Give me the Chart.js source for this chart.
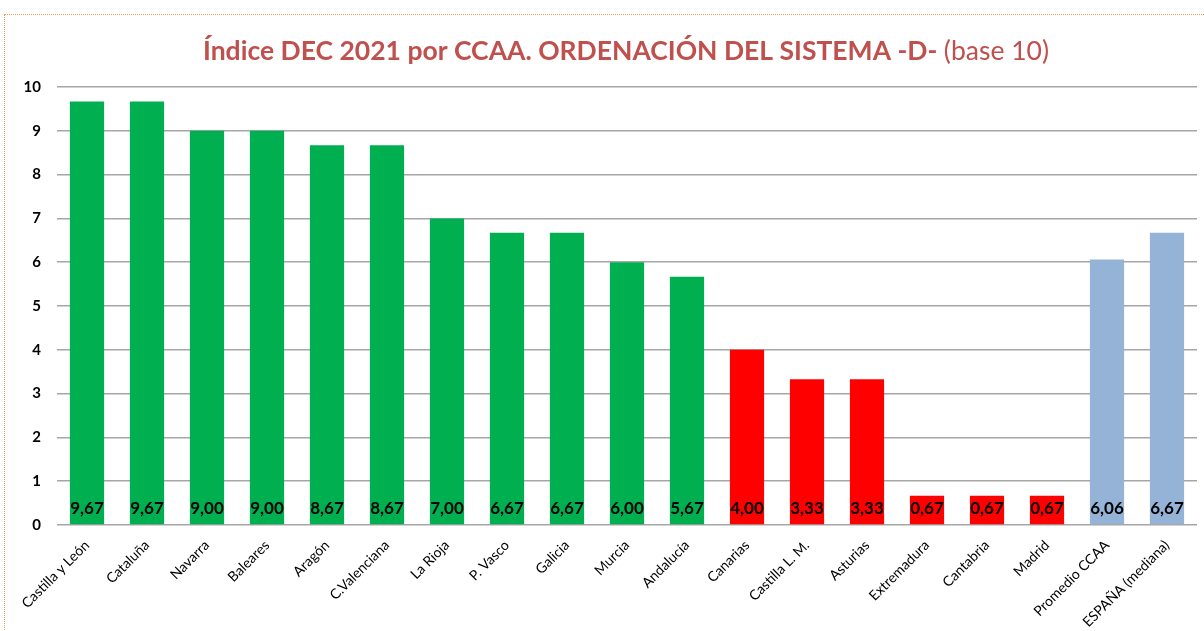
<!DOCTYPE html>
<html>
<head>
<meta charset="utf-8">
<script src="https://cdn.jsdelivr.net/npm/chart.js@4"></script>
<style>
  html, body { margin: 0; padding: 0; background: #fff; overflow: hidden; }
  #frame { position: absolute; left: 4px; top: 14px; width: 1400px; height: 800px; border: 1px dotted #F79646; }
  #wrap { position: absolute; left: 0; top: 0; width: 1204px; height: 631px; }
</style>
</head>
<body>
<div id="frame"></div>
<div id="wrap"><canvas id="c" width="1204" height="631"></canvas></div>
<script>
const categories = ["Castilla y León","Cataluña","Navarra","Baleares","Aragón","C.Valenciana","La Rioja","P. Vasco","Galicia","Murcia","Andalucía","Canarias","Castilla L. M.","Asturias","Extremadura","Cantabria","Madrid","Promedio CCAA","ESPAÑA (mediana)"];
const values = [9.67,9.67,9.00,9.00,8.67,8.67,7.00,6.67,6.67,6.00,5.67,4.00,3.33,3.33,0.67,0.67,0.67,6.06,6.67];
const groups = ["high","high","high","high","high","high","high","high","high","high","high","low","low","low","low","low","low","ref","ref"];
const groupColors = { high: "#00B050", low: "#FF0000", ref: "#95B3D7" };
const titleBold = "Índice DEC 2021 por CCAA. ORDENACIÓN DEL SISTEMA -D- ";
const titleNormal = "(base 10)";
const yTicks = [0,1,2,3,4,5,6,7,8,9,10];

const FONT = "Lato, 'Open Sans', sans-serif";

const titlePlugin = {
  id: "titlePlugin",
  afterDraw(chart) {
    const ctx = chart.ctx;
    ctx.save();
    ctx.fillStyle = "#C0504D";
    ctx.textBaseline = "alphabetic";
    const bFont = "bold 26.5px " + FONT;
    const nFont = "26.5px " + FONT;
    ctx.font = bFont;
    const w1 = ctx.measureText(titleBold).width;
    ctx.font = nFont;
    const w2 = ctx.measureText(titleNormal).width;
    const cx = 626;
    let x = cx - (w1 + w2) / 2;
    const y = 60;
    ctx.font = bFont;
    ctx.fillText(titleBold, x, y);
    ctx.font = nFont;
    ctx.fillText(titleNormal, x + w1, y);
    ctx.restore();
  }
};

const labelPlugin = {
  id: "labelPlugin",
  afterDatasetsDraw(chart) {
    const ctx = chart.ctx;
    const meta = chart.getDatasetMeta(0);
    ctx.save();
    ctx.font = "bold 17px " + FONT;
    ctx.fillStyle = "#000";
    ctx.textAlign = "center";
    ctx.textBaseline = "middle";
    const base = chart.scales.y.getPixelForValue(0);
    meta.data.forEach((bar, i) => {
      ctx.fillText(values[i].toFixed(2).replace(".", ","), bar.x, base - 16);
    });
    ctx.restore();
  }
};

new Chart(document.getElementById("c"), {
  type: "bar",
  data: {
    labels: categories,
    datasets: [{
      data: values,
      backgroundColor: groups.map(g => groupColors[g]),
      borderWidth: 0,
      categoryPercentage: 1,
      barPercentage: 0.57
    }]
  },
  options: {
    responsive: false,
    animation: false,
    events: [],
    layout: { padding: { left: 0, right: 7, top: 87, bottom: 0 } },
    plugins: { legend: { display: false }, title: { display: false }, tooltip: { enabled: false } },
    scales: {
      x: {
        grid: { display: false },
        border: { display: false },
        ticks: {
          maxRotation: 45, minRotation: 45, autoSkip: false,
          color: "#000", font: { family: FONT, size: 14 }, padding: 4
        },
        afterFit(s) { s.height = 106; }
      },
      y: {
        min: 0, max: 10,
        afterBuildTicks(s) { s.ticks = yTicks.map(v => ({ value: v })); },
        grid: { color: "#A6A6A6", lineWidth: 1.5, drawTicks: false },
        border: { display: false },
        ticks: { color: "#000", font: { family: FONT, size: 15, weight: "bold" }, padding: 16 },
        afterFit(s) { s.width = 57; }
      }
    }
  },
  plugins: [titlePlugin, labelPlugin]
});
</script>
</body>
</html>
